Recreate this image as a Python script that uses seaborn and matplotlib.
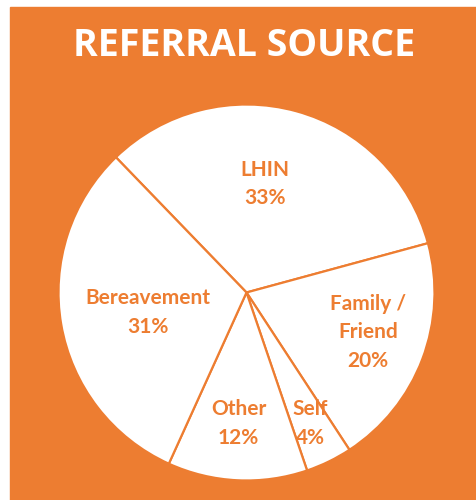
import numpy as np
import matplotlib
matplotlib.use("Agg")
import matplotlib.pyplot as plt
import seaborn as sns
from matplotlib.patches import Rectangle

# ==================================================
# Data
# ==================================================
sources = ["LHIN", "Family /\nFriend", "Self", "Other", "Bereavement"]
shares = [33, 20, 4, 12, 31]

# label placement (fraction of radius, angle nudge in degrees)
label_radius = [0.585, 0.68, 0.777, 0.70, 0.534]
label_nudge = [5.7, 2.6, 0.0, -0.7, 1.6]

# ==================================================
# Settings
# ==================================================
sns.set_theme(style="white")
plt.rcParams["font.family"] = ["Lato", "DejaVu Sans"]

orange = "#ED7D31"

fig = plt.figure(figsize=(4.76, 5.0), dpi=100)
fig.patch.set_facecolor("white")
fig.patches.append(Rectangle((10 / 476, 0), 1 - 10 / 476, 493 / 500,
                             transform=fig.transFigure, color=orange, zorder=-1))

# ==================================================
# Pie
# ==================================================
cx, cy, r = 246.5, 207.5, 188
ax = fig.add_axes([(cx - r) / 476, (cy - r) / 500, 2 * r / 476, 2 * r / 500])
ax.set_facecolor("none")

wedges, _ = ax.pie(
    shares,
    startangle=134,
    counterclock=False,
    colors=["white"] * len(shares),
    wedgeprops=dict(edgecolor=orange, linewidth=1.6),
)
ax.set_xlim(-1, 1)
ax.set_ylim(-1, 1)
ax.set_aspect("equal")
ax.axis("off")

for w, name, val, rr, nd in zip(wedges, sources, shares, label_radius, label_nudge):
    mid = np.deg2rad((w.theta1 + w.theta2) / 2 + nd)
    ax.text(
        rr * np.cos(mid), rr * np.sin(mid),
        f"{name}\n{val}%",
        ha="center", va="center",
        color=orange, fontsize=15, fontweight="bold",
        linespacing=1.55,
    )

fig.text(244 / 476, 1 - 56 / 500, "REFERRAL SOURCE",
         ha="center", va="baseline", color="white",
         fontsize=27, fontweight="bold", family=["Open Sans", "DejaVu Sans"])

fig.savefig("out.png", dpi=100, facecolor=fig.get_facecolor())
